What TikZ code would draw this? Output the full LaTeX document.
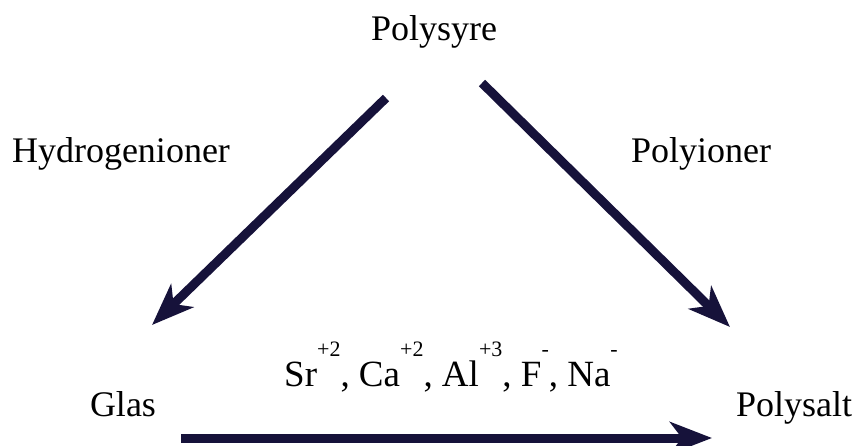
\documentclass[tikz,border=0pt]{standalone}
\usepackage{fontspec}
\setmainfont{Liberation Serif}
\usetikzlibrary{arrows.meta}
\definecolor{arrowc}{RGB}{22,18,58}
\tikzset{
  lbl/.style={anchor=base, inner sep=0pt, font=\fontsize{36}{40}\selectfont},
  bigarrow/.style={draw=arrowc, line width=9pt, -{Stealth[length=42pt,width=32pt,inset=12pt]}}
}
\newcommand{\ionsup}[1]{\raisebox{30pt}{\fontsize{22}{22}\selectfont #1}}
\begin{document}
\begin{tikzpicture}[x=1pt,y=-1pt]
\useasboundingbox (0,0) rectangle (857,446);
\node[lbl] (syre) at (434,41) {Polysyre};
\node[lbl] (hyd) at (121,163) {Hydrogenioner};
\node[lbl] (pion) at (701,163) {Polyioner};
\node[lbl] (glas) at (123,416) {Glas};
\node[lbl] (salt) at (794,416) {Polysalt};
\node[lbl, anchor=base west, font=\fontsize{37}{40}\selectfont] (ions) at (284,386) {Sr\ionsup{+2}, Ca\ionsup{+2}, Al\ionsup{+3}, F\ionsup{-}, Na\ionsup{-}};
\coordinate (a1s) at (386,98);
\coordinate (a1e) at (152,325);
\coordinate (a2s) at (482,83);
\coordinate (a2e) at (730,327);
\coordinate (a3s) at (181,438);
\coordinate (a3e) at (712,438);
\draw[bigarrow] (a1s) -- (a1e);
\draw[bigarrow] (a2s) -- (a2e);
\draw[bigarrow] (a3s) -- (a3e);
\end{tikzpicture}
\end{document}
